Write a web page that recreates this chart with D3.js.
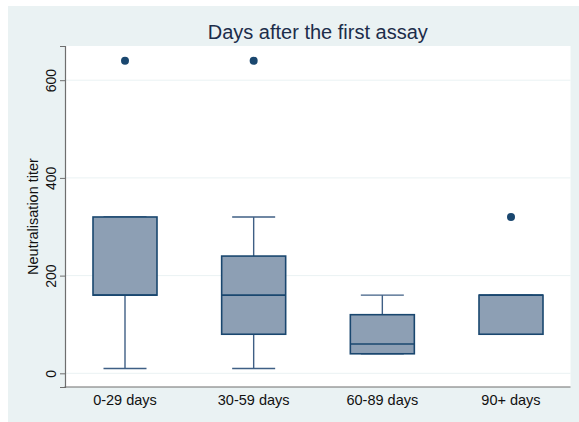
<!DOCTYPE html>
<html>
<head>
<meta charset="utf-8">
<script src="https://cdn.jsdelivr.net/npm/d3@7"></script>
<style>
  body { margin: 0; background: #fff; }
  svg { display: block; }
</style>
</head>
<body>
<div id="vis"></div>
<script>
// ---- Data ----
const groups = ["0-29 days", "30-59 days", "60-89 days", "90+ days"];
const whiskLo = [10, 10, 40, 80];
const q1 = [160, 80, 40, 80];
const median = [160, 160, 60, 160];
const q3 = [320, 240, 120, 160];
const whiskHi = [320, 320, 160, 160];
const outliers = [[640], [640], [], [320]];
const yTicks = [0, 200, 400, 600];

const W = 579, H = 422;
const plot = { left: 65, right: 570.5, top: 46, bottom: 387 };

const navy = "#1a476f";
const font = "'Liberation Sans', Arial, Helvetica, sans-serif";

const svg = d3.select("#vis").append("svg")
  .attr("width", W)
  .attr("height", H);

// graph region background
svg.append("rect")
  .attr("x", 8).attr("y", 6)
  .attr("width", W - 8).attr("height", H - 6)
  .attr("fill", "#eaf2f3");

// plot region
svg.append("rect")
  .attr("x", plot.left).attr("y", plot.top)
  .attr("width", plot.right - plot.left).attr("height", plot.bottom - plot.top)
  .attr("fill", "#fff");

const x = d3.scalePoint().domain(groups).range([125, 511]);
const y = d3.scaleLinear().domain([-28, 670]).range([plot.bottom, plot.top]);

// gridlines
svg.append("g")
  .selectAll("line")
  .data(yTicks)
  .join("line")
  .attr("x1", plot.left).attr("x2", plot.right)
  .attr("y1", d => y(d)).attr("y2", d => y(d))
  .attr("stroke", "#eaf2f3")
  .attr("stroke-width", 1);

// y axis
const yAxis = svg.append("g")
  .attr("transform", `translate(${plot.left},0)`)
  .call(d3.axisLeft(y).tickValues(yTicks).tickSize(5).tickPadding(4));
yAxis.select(".domain").attr("stroke", "#6e6e6e").attr("stroke-width", 1.2);
yAxis.selectAll(".tick line").attr("stroke", "#6e6e6e");
yAxis.selectAll(".tick text")
  .attr("transform", "rotate(-90)")
  .attr("x", 0).attr("y", -9)
  .attr("dy", 0)
  .attr("text-anchor", "middle")
  .style("font", `14px ${font}`)
  .attr("fill", "#111");

// x axis line
svg.append("line")
  .attr("x1", plot.left - 0.6).attr("x2", plot.right)
  .attr("y1", plot.bottom).attr("y2", plot.bottom)
  .attr("stroke", "#6e6e6e")
  .attr("stroke-width", 1.2);

// x labels
svg.append("g")
  .selectAll("text")
  .data(groups)
  .join("text")
  .attr("x", d => x(d))
  .attr("y", 405)
  .attr("text-anchor", "middle")
  .style("font", `14.5px ${font}`)
  .attr("fill", "#111")
  .text(d => d);

// axis title
svg.append("text")
  .attr("transform", `translate(38,${(plot.top + plot.bottom) / 2}) rotate(-90)`)
  .attr("text-anchor", "middle")
  .style("font", `14.5px ${font}`)
  .attr("fill", "#111")
  .text("Neutralisation titer");

// title
svg.append("text")
  .attr("x", (plot.left + plot.right) / 2)
  .attr("y", 39)
  .attr("text-anchor", "middle")
  .style("font", `20px ${font}`)
  .attr("fill", "#1c2d4a")
  .text("Days after the first assay");

// ---- boxes ----
const boxW = 64, capW = 43;
const boxes = svg.append("g");

groups.forEach((g, i) => {
  const cx = x(g);
  const grp = boxes.append("g");

  // whiskers
  [[whiskLo[i], q1[i]], [q3[i], whiskHi[i]]].forEach(([a, b]) => {
    grp.append("line")
      .attr("x1", cx).attr("x2", cx)
      .attr("y1", y(a)).attr("y2", y(b))
      .attr("stroke", "#3f5f85").attr("stroke-width", 1.4);
  });
  [whiskLo[i], whiskHi[i]].forEach(v => {
    grp.append("line")
      .attr("x1", cx - capW / 2).attr("x2", cx + capW / 2)
      .attr("y1", y(v)).attr("y2", y(v))
      .attr("stroke", "#3f5f85").attr("stroke-width", 1.4);
  });

  // box
  grp.append("rect")
    .attr("x", cx - boxW / 2)
    .attr("y", y(q3[i]))
    .attr("width", boxW)
    .attr("height", y(q1[i]) - y(q3[i]))
    .attr("fill", "#8d9fb4")
    .attr("stroke", navy)
    .attr("stroke-width", 1.6);

  // median
  grp.append("line")
    .attr("x1", cx - boxW / 2).attr("x2", cx + boxW / 2)
    .attr("y1", y(median[i])).attr("y2", y(median[i]))
    .attr("stroke", navy).attr("stroke-width", 1.6);

  // outliers
  grp.selectAll("circle")
    .data(outliers[i])
    .join("circle")
    .attr("cx", cx)
    .attr("cy", d => y(d))
    .attr("r", 4)
    .attr("fill", navy);
});
</script>
</body>
</html>
